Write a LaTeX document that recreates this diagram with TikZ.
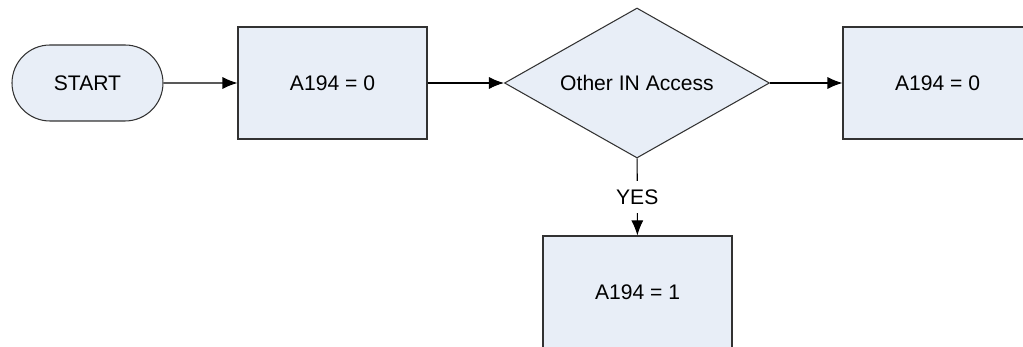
\documentclass[tikz,border=0pt]{standalone}
\usepackage{fontspec}
\setmainfont{Liberation Sans}
\usepackage{tikz}
\usetikzlibrary{arrows.meta,positioning,shapes.geometric,shapes.misc}
\definecolor{fcfill}{RGB}{232,238,247}
\definecolor{fcline}{RGB}{50,50,50}
\tikzset{
  fcterm/.style={draw=fcline, fill=fcfill, rounded rectangle, minimum width=3.02cm, minimum height=1.52cm, inner sep=0pt, line width=0.6pt},
  fcbox/.style={draw=fcline, fill=fcfill, rectangle, minimum width=3.78cm, minimum height=2.24cm, inner sep=0pt, line width=0.6pt},
  fcdec/.style={draw=fcline, fill=fcfill, diamond, aspect=1.77, minimum width=5.3cm, minimum height=3cm, inner sep=0pt, line width=0.6pt},
  fcarrow/.style={-{Latex[length=3mm, width=2.4mm]}, line width=0.6pt},
  fclabel/.style={fill=white, inner xsep=2pt, inner ysep=5pt, midway},
}

\begin{document}
\begin{tikzpicture}[font=\fontsize{12}{14}\selectfont]
  \useasboundingbox (0,0) rectangle (20.46,-6.94);
  \node[fcterm] (start) at (1.75,-1.66) {START};
  \node[fcbox] (init) at (6.65,-1.66) {A194 = 0};
  \node[fcdec] (access) at (12.74,-1.66) {Other IN Access};
  \node[fcbox] (nores) at (18.75,-1.66) {A194 = 0};
  \node[fcbox] (yesres) at (12.75,-5.84) {A194 = 1};

  \draw[fcarrow] (start) -- (init);
  \draw[fcarrow] (init) -- (access);
  \draw[fcarrow] (access) -- (nores);
  \draw[fcarrow] (access) -- node[fclabel] {YES} (yesres);
\end{tikzpicture}
\end{document}
